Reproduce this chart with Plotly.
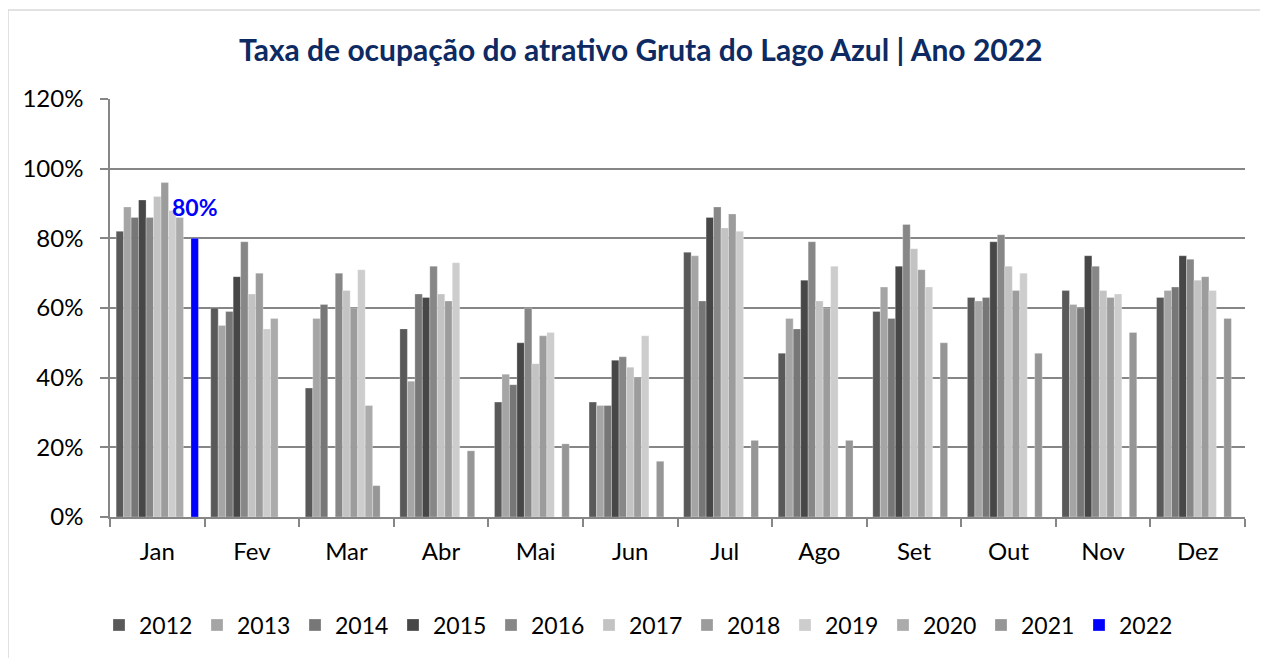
import plotly.graph_objects as go

months = ["Jan", "Fev", "Mar", "Abr", "Mai", "Jun", "Jul", "Ago", "Set", "Out", "Nov", "Dez"]
years = ["2012", "2013", "2014", "2015", "2016", "2017", "2018", "2019", "2020", "2021", "2022"]

y2012 = [82, 60, 37, 54, 33, 33, 76, 47, 59, 63, 65, 63]
y2013 = [89, 55, 57, 39, 41, 32, 75, 57, 66, 62, 61, 65]
y2014 = [86, 59, 61, 64, 38, 32, 62, 54, 57, 63, 60, 66]
y2015 = [91, 69, None, 63, 50, 45, 86, 68, 72, 79, 75, 75]
y2016 = [86, 79, 70, 72, 60, 46, 89, 79, 84, 81, 72, 74]
y2017 = [92, 64, 65, 64, 44, 43, 83, 62, 77, 72, 65, 68]
y2018 = [96, 70, 60, 62, 52, 40, 87, 60, 71, 65, 63, 69]
y2019 = [88, 54, 71, 73, 53, 52, 82, 72, 66, 70, 64, 65]
y2020 = [86, 57, 32, None, None, None, None, None, None, None, None, None]
y2021 = [None, None, 9, 19, 21, 16, 22, 22, 50, 47, 53, 57]
y2022 = [80, None, None, None, None, None, None, None, None, None, None, None]

series = [y2012, y2013, y2014, y2015, y2016, y2017, y2018, y2019, y2020, y2021, y2022]
colors = ["#595959", "#a5a5a5", "#777777", "#474747", "#878787", "#c3c3c3",
          "#9c9c9c", "#cdcdcd", "#ababab", "#969696", "#0000ff"]

title_text = "<b>Taxa de ocupação do atrativo Gruta do Lago Azul | Ano 2022</b>"
tick_vals = [0, 20, 40, 60, 80, 100, 120]
tick_text = [f"{v}%" for v in tick_vals]

FONT = "Lato, 'Open Sans', sans-serif"

# the page body adds an 8px offset; figure coordinates below are page coords minus 8
W, H = 1268, 658
L, R, T, B = 102, 31, 91, 149
pw, ph = W - L - R, H - T - B
BARGAP = 0.13

def px_x(px):
    return (px - L) / pw

def px_y(py):
    return (H - B - py) / ph

fig = go.Figure()
for yr, vals, col in zip(years, series, colors):
    fig.add_trace(go.Bar(
        name=yr, x=months, y=vals,
        marker=dict(color=col, line=dict(color="rgba(255,255,255,0.45)", width=0.6)),
        hoverinfo="x+y+name",
    ))

# data label for the 2022 series, placed over its own bar within the group
n_series = len(series)
cat_px = pw / len(months)
group_px = (1 - BARGAP) * cat_px
idx_last = n_series - 1
offset_px = ((idx_last + 0.5) / n_series - 0.5) * group_px
annotations = []
for m, v in zip(months, y2022):
    if v is None:
        continue
    annotations.append(dict(
        x=m, y=v, xref="x", yref="y", text=f"<b>{v}%</b>", showarrow=False,
        xshift=offset_px, yanchor="bottom", yshift=15,
        font=dict(color="#0000ff", size=23, family=FONT),
    ))

fig.update_layout(
    width=W, height=H,
    margin=dict(l=L, r=R, t=T, b=B, autoexpand=False),
    paper_bgcolor="white", plot_bgcolor="white",
    barmode="group", bargap=BARGAP, bargroupgap=0,
    font=dict(family=FONT, color="#000000", size=24),
    title=dict(text=title_text, x=0.499, xref="container",
               xanchor="center", y=(H - 42) / H, yanchor="middle",
               font=dict(family=FONT, size=30, color="#0d2a63")),
    xaxis=dict(
        showgrid=False, showline=True, linecolor="#868686", linewidth=1.5,
        ticks="outside", ticklen=8, tickcolor="#868686", tickwidth=1.5,
        tickson="boundaries", tickfont=dict(size=24, family=FONT), ticklabelstandoff=12,
    ),
    yaxis=dict(
        range=[0, 120], tickvals=tick_vals, ticktext=tick_text,
        showgrid=True, gridcolor="#868686", gridwidth=1.5,
        showline=True, linecolor="#868686", linewidth=1.5,
        ticks="outside", ticklen=8, tickcolor="#868686", tickwidth=1.5,
        tickfont=dict(size=24, family=FONT), zeroline=False, ticklabelstandoff=12,
    ),
    legend=dict(
        orientation="h", x=px_x(91), xanchor="left", y=px_y(617), yanchor="middle",
        entrywidth=53, entrywidthmode="pixels", traceorder="normal",
        font=dict(size=23, family=FONT), itemclick=False,
    ),
    showlegend=True,
    annotations=annotations,
    shapes=[dict(type="rect", xref="paper", yref="paper",
                 x0=px_x(0), x1=px_x(1300), y0=px_y(700), y1=px_y(2),
                 line=dict(color="#d9d9d9", width=1.5), fillcolor="rgba(0,0,0,0)", layer="below")],
)

fig.write_html("out.html")
